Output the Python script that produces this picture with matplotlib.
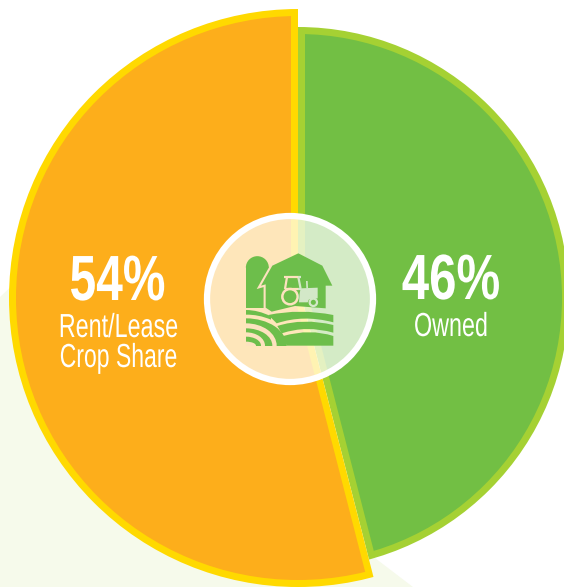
#!/usr/bin/env python3
import matplotlib
matplotlib.use("Agg")
import matplotlib.pyplot as plt
from matplotlib.patches import Circle, Ellipse, Polygon, PathPatch, Wedge, Rectangle
from matplotlib.path import Path
from matplotlib.patheffects import AbstractPathEffect
from matplotlib.transforms import Affine2D

# Data
shares = [54, 46]
percent_labels = ["54%", "46%"]
category_labels = ["Rent/Lease\nCrop Share", "Owned"]

ORANGE = "#FDAE1B"
YELLOW = "#FFD900"
GREEN = "#72BF44"
LIME = "#A5D133"
PALE = "#F6FAEB"
ICON = "#6DBE4B"
TINT_L = "#FDE2BF"
TINT_R = "#D3E8C8"

W, H = 564, 587
fig = plt.figure(figsize=(W / 100, H / 100), dpi=100)
ax = fig.add_axes([0, 0, 1, 1])


def Y(py):
    return H - py


class Squeeze(AbstractPathEffect):
    # no condensed font installed, so narrow the glyphs round the text centre
    def __init__(self, sx, cx):
        super().__init__()
        self.sx, self.cx = sx, cx

    def draw_path(self, renderer, gc, tpath, affine, rgbFace=None):
        squeeze = Affine2D().translate(-self.cx, 0).scale(self.sx, 1).translate(self.cx, 0)
        renderer.draw_path(gc, tpath, affine + squeeze, rgbFace)


def label(x, py, s, size, sx, **kw):
    t = ax.text(x, Y(py), s, color="white", fontsize=size, family="Liberation Sans", ha="center", va="baseline", **kw)
    t.set_path_effects([Squeeze(sx, x)])


def layer(color, slot, apex_x, clip_r):
    # one slice of the pie, the outer arc is cut by a circle round the real centre
    colors = ["none", "none"]
    colors[slot] = color
    wedges, _ = ax.pie(shares, colors=colors, radius=360, center=(apex_x, Y(283)), startangle=90)
    clip = Circle((298, Y(298)), clip_r, transform=ax.transData)
    for w in wedges:
        w.set_clip_on(True)
        w.set_clip_path(clip)


ax.add_patch(Polygon([(0, Y(297)), (60, Y(240)), (375, Y(558)), (413, Y(587)), (0, Y(587))], fc=PALE, ec="none"))

layer(LIME, 1, 298, 271)
layer(GREEN, 1, 305, 264)
layer(YELLOW, 0, 298, 289)
layer(ORANGE, 0, 291, 282)

# centre disc
ax.add_patch(Circle((290, Y(299)), 83, fc="white", ec="none", alpha=0.7))
ax.add_patch(Circle((290, Y(299)), 83, fc="none", ec="white", lw=4.5))


# icon, coordinates are 3x crop pixels from the top left of the icon box
def ix(x):
    return 235 + x / 3


def iy(y):
    return Y(245 + y / 3)


def band(top, bottom):
    verts = [(ix(x), iy(y)) for x, y in top + bottom] + [(0, 0)]
    codes = [Path.MOVETO, Path.CURVE3, Path.CURVE3, Path.LINETO, Path.CURVE3, Path.CURVE3, Path.CLOSEPOLY]
    ax.add_patch(PathPatch(Path(verts, codes), fc=ICON, ec="none"))


# silo
ax.add_patch(Rectangle((ix(33), iy(188)), 69 / 3, 122 / 3, fc=ICON, ec="none"))
ax.add_patch(Wedge((ix(67), iy(68)), 34.5 / 3, 0, 180, fc=ICON, ec="none"))

# barn, the pale outline only shows against the silo
barn = [(ix(x), iy(y)) for x, y in [(78, 122), (112, 62), (190, 25), (262, 62), (292, 122), (272, 122), (272, 190), (180, 183), (110, 200), (92, 188), (92, 118)]]
silo_side = Rectangle((ix(30), iy(210)), 90 / 3, 200 / 3, transform=ax.transData)
halo = Polygon(barn, fc=TINT_L, ec=TINT_L, lw=3, joinstyle="miter")
ax.add_patch(halo)
halo.set_clip_path(silo_side)
ax.add_patch(Polygon(barn, fc=ICON, ec="none"))

# hills
band([(33, 195), (70, 195), (108, 214)], [(108, 224), (70, 208), (33, 209)])
band([(100, 210), (195, 190), (295, 210)], [(295, 232), (205, 208), (125, 235)])
band([(127, 243), (205, 218), (295, 240)], [(295, 263), (215, 240), (140, 265)])
band([(145, 273), (225, 250), (295, 273)], [(295, 302), (225, 302), (155, 302)])

# field arcs on the left, nested ellipses cut to the icon box
box = Rectangle((ix(33), iy(302)), 130 / 3, 90 / 3, transform=ax.transData)
for rx, ry, tone in [(122, 82, ICON), (92, 67, TINT_L), (79, 52, ICON), (57, 40, TINT_L), (45, 27, ICON), (30, 12, TINT_L)]:
    e = Ellipse((ix(33), iy(302)), 2 * rx / 3, 2 * ry / 3, fc=tone, ec="none")
    ax.add_patch(e)
    e.set_clip_path(box)

# tractor
left_half = Rectangle((0, 0), 298, H, transform=ax.transData)
right_half = Rectangle((298, 0), W - 298, H, transform=ax.transData)
for tint, half in [(TINT_L, left_half), (TINT_R, right_half)]:
    parts = [
        Circle((ix(165), iy(155)), 23 / 3, fc="none", ec=tint, lw=1.8),
        Circle((ix(235), iy(172)), 11 / 3, fc="none", ec=tint, lw=1.6),
        Polygon([(ix(x), iy(y)) for x, y in [(197, 130), (248, 128), (248, 160), (222, 163), (218, 172), (192, 172), (194, 145)]], fc=tint, ec="none"),
        Polygon([(ix(x), iy(y)) for x, y in [(213, 108), (218, 108), (219, 130), (214, 130)]], fc=tint, ec="none"),
    ]
    for p in parts:
        ax.add_patch(p)
        p.set_clip_path(half)
    for xs, ys in [((148, 198), (96, 96)), ((156, 150), (96, 132)), ((190, 197), (96, 132)), ((150, 197), (132, 132))]:
        ln, = ax.plot([ix(x) for x in xs], [iy(y) for y in ys], color=tint, lw=1.6, solid_capstyle="butt")
        ln.set_clip_path(half)

# labels
left_lines = category_labels[0].split("\n")
label(117.5, 300, percent_labels[0], 46, 0.75, fontweight="bold")
label(118.5, 337, left_lines[0], 24, 0.70)
label(118.5, 367, left_lines[1], 24, 0.69)
label(451, 299, percent_labels[1], 46, 0.77, fontweight="bold")
label(451, 336, category_labels[1], 24, 0.70)

ax.set_xlim(0, W)
ax.set_ylim(0, H)
fig.savefig("out.png", dpi=100, facecolor="white")
